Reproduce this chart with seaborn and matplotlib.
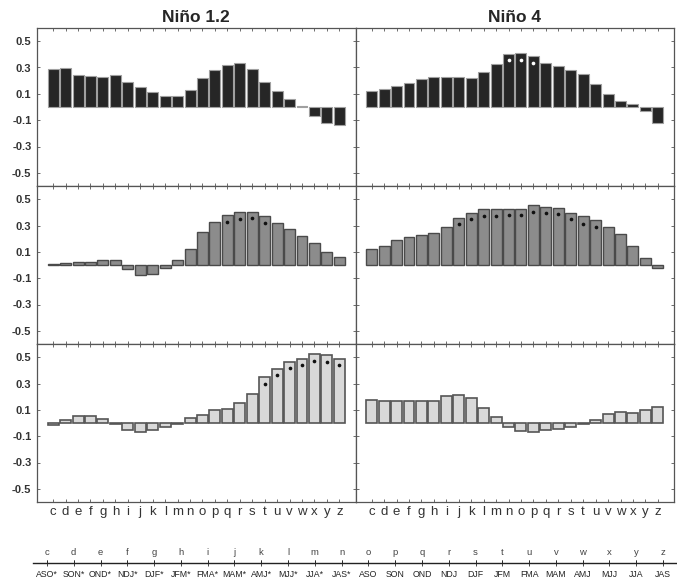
import numpy as np
import pandas as pd
import seaborn as sns
import matplotlib
matplotlib.use("Agg")
import matplotlib.pyplot as plt

sns.set_style("white")
plt.rcParams["font.family"] = ["Liberation Sans", "DejaVu Sans"]

letters = list("cdefghijklmnopqrstuvwxyz")
seasons = ["ASO*", "SON*", "OND*", "NDJ*", "DJF*", "JFM*", "FMA*", "MAM*",
           "AMJ*", "MJJ*", "JJA*", "JAS*", "ASO", "SON", "OND", "NDJ", "DJF",
           "JFM", "FMA", "MAM", "AMJ", "MJJ", "JJA", "JAS"]
titles = ["Niño 1.2", "Niño 4"]

nan = np.nan
# row 1 (dark bars)
n12_r1 = [0.285, 0.295, 0.24, 0.233, 0.226, 0.24, 0.187, 0.149, 0.113, 0.087, 0.087, 0.128,
          0.218, 0.28, 0.318, 0.331, 0.29, 0.192, 0.118, 0.059, 0.01, -0.067, -0.118, -0.133]
n4_r1 = [0.123, 0.136, 0.162, 0.18, 0.215, 0.23, 0.23, 0.226, 0.22, 0.267, 0.328, 0.405,
         0.413, 0.385, 0.333, 0.31, 0.282, 0.25, 0.177, 0.1, 0.049, 0.02, -0.031, -0.118]
n12_r1_dot = [nan] * 24
n4_r1_dot = [nan] * 11 + [0.354, 0.36, 0.336] + [nan] * 10

# row 2 (mid grey bars)
n12_r2 = [0.008, 0.018, 0.02, 0.02, 0.041, 0.036, -0.03, -0.077, -0.07, -0.023, 0.036, 0.118,
          0.254, 0.326, 0.38, 0.4, 0.405, 0.374, 0.32, 0.274, 0.22, 0.169, 0.1, 0.064]
n4_r2 = [0.12, 0.144, 0.187, 0.213, 0.23, 0.246, 0.287, 0.356, 0.395, 0.423, 0.423, 0.426,
         0.426, 0.454, 0.444, 0.433, 0.395, 0.369, 0.344, 0.292, 0.236, 0.144, 0.056, -0.023]
n12_r2_dot = [nan] * 14 + [0.33, 0.348, 0.356, 0.32] + [nan] * 6
n4_r2_dot = [nan] * 7 + [0.308, 0.349, 0.372, 0.372, 0.38, 0.38, 0.403, 0.392, 0.385,
                         0.346, 0.315, 0.29] + [nan] * 5

# row 3 (light bars)
n12_r3 = [-0.015, 0.02, 0.056, 0.051, 0.03, -0.005, -0.056, -0.072, -0.054, -0.03, -0.005, 0.038,
          0.064, 0.095, 0.105, 0.151, 0.22, 0.349, 0.413, 0.464, 0.487, 0.523, 0.513, 0.485]
n4_r3 = [0.172, 0.169, 0.169, 0.169, 0.169, 0.169, 0.205, 0.21, 0.192, 0.115, 0.049, -0.033,
         -0.062, -0.069, -0.054, -0.046, -0.031, -0.01, 0.026, 0.067, 0.085, 0.079, 0.1, 0.123]
n12_r3_dot = [nan] * 17 + [0.295, 0.364, 0.415, 0.438, 0.472, 0.464, 0.438]
n4_r3_dot = [nan] * 24

rows = [
    (n12_r1, n12_r1_dot, n4_r1, n4_r1_dot),
    (n12_r2, n12_r2_dot, n4_r2, n4_r2_dot),
    (n12_r3, n12_r3_dot, n4_r3, n4_r3_dot),
]
fills = ["#262626", "#8c8c8c", "#d9d9d9"]
edges = ["#a0a0a0", "#4a4a4a", "#555555"]
edge_w = [0.8, 1.0, 1.2]
dot_colors = ["white", "#111111", "#111111"]

fig = plt.figure(figsize=(6.77, 5.84), dpi=100)
gs = fig.add_gridspec(3, 2, left=37 / 677, right=674 / 677, top=1 - 28 / 584,
                      bottom=1 - 502 / 584, hspace=0, wspace=0)

idx = np.arange(24)
for r, row in enumerate(rows):
    for c in range(2):
        vals = row[2 * c]
        dots = row[2 * c + 1]
        ax = fig.add_subplot(gs[r, c])
        df = pd.DataFrame({"season": letters, "corr": vals})
        sns.barplot(data=df, x="season", y="corr", order=letters, color=fills[r],
                    saturation=1, edgecolor=edges[r], linewidth=edge_w[r],
                    width=0.88, ax=ax)
        dd = pd.DataFrame({"pos": idx, "dot": dots}).dropna()
        if len(dd):
            sns.scatterplot(data=dd, x="pos", y="dot", color=dot_colors[r], s=7,
                            linewidth=0, ax=ax, zorder=5)
        ax.set_xlim(-1.3, 24.3)
        ax.set_ylim(-0.6, 0.6)
        ax.set_yticks([0.5, 0.3, 0.1, -0.1, -0.3, -0.5])
        ax.set_yticklabels(["0.5", "0.3", "0.1", "-0.1", "-0.3", "-0.5"])
        ax.set_xticks(idx)
        ax.set_xlabel("")
        ax.set_ylabel("")
        ax.tick_params(direction="in", length=2.5, width=0.6, color="#555555",
                       top=True, right=True, bottom=True, left=True,
                       labelleft=(c == 0), labelbottom=(r == 2), pad=4)
        for lab in ax.get_yticklabels():
            lab.set_fontweight("bold")
            lab.set_fontsize(8)
            lab.set_color("#333333")
        if r == 2:
            ax.set_xticklabels(letters, fontsize=9.5, color="#333333")
            ax.tick_params(axis="x", pad=3)
        for sp in ax.spines.values():
            sp.set_color("#555555")
            sp.set_linewidth(0.9)
        if r == 0:
            ax.set_title(titles[c], fontsize=12.5, fontweight="bold", pad=4)

# season key axis at the bottom
axk = fig.add_axes([33 / 677, 1 - 563 / 584, 644 / 677, 0.0001])
axk.set_xlim(-0.52, 23.52)
axk.set_yticks([])
for side in ["left", "right", "top"]:
    axk.spines[side].set_visible(False)
axk.spines["bottom"].set_color("#222222")
axk.spines["bottom"].set_linewidth(1.0)
axk.set_xticks(idx)
axk.set_xticklabels(seasons, fontsize=6.3, color="#222222")
axk.tick_params(axis="x", direction="inout", length=4, width=0.6, pad=3)

axt = axk.twiny()
axt.set_xlim(-0.52, 23.52)
axt.set_xticks(idx)
axt.set_xticklabels(letters, fontsize=6.8, color="#444444")
axt.tick_params(axis="x", direction="out", length=2, width=0.6, pad=2)
for sp in axt.spines.values():
    sp.set_visible(False)

plt.savefig("out.png", dpi=100)
